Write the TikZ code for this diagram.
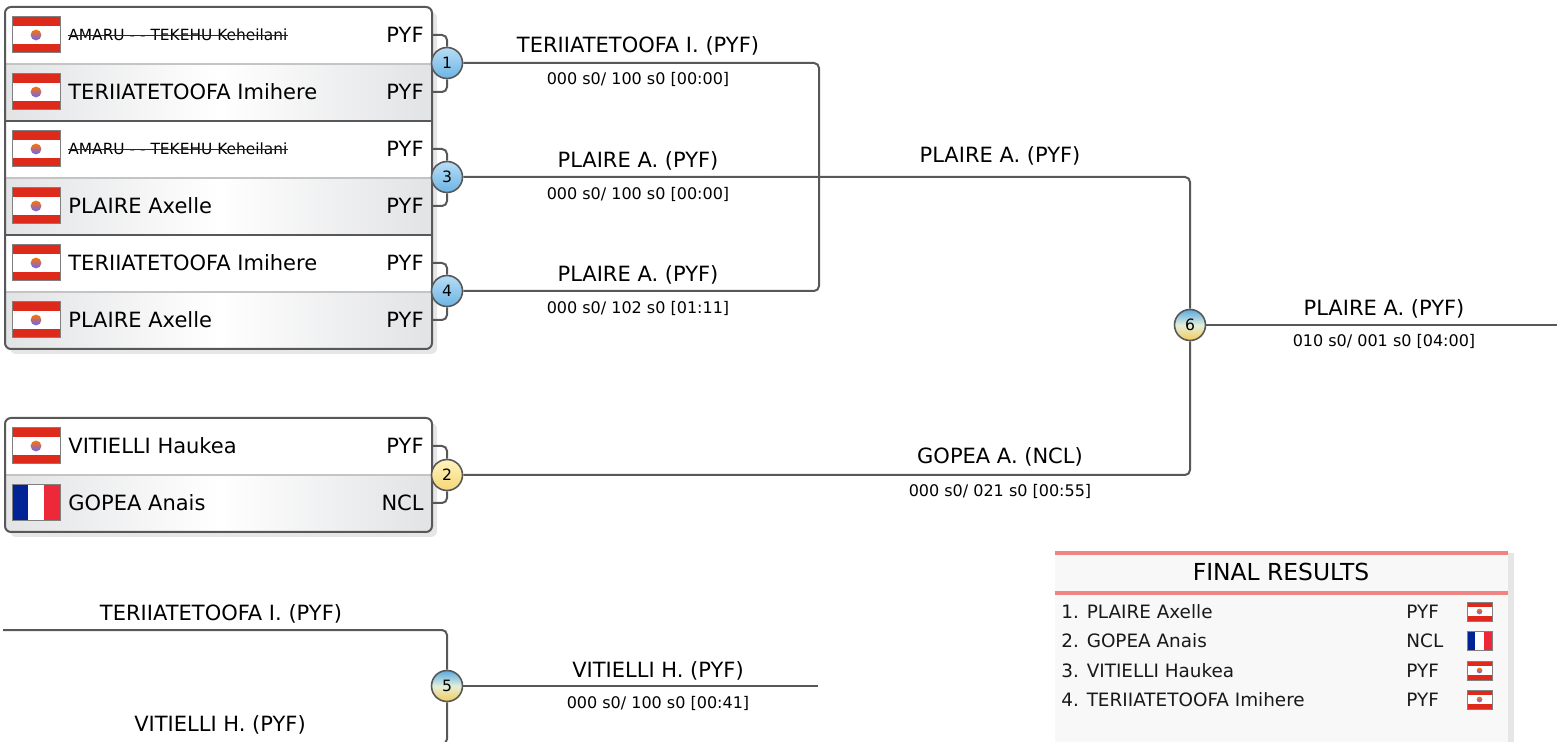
\documentclass[tikz,border=0pt]{standalone}
\usepackage{fontspec}
\setmainfont{DejaVu Sans}
\definecolor{linegray}{HTML}{585858}
\definecolor{rowline}{HTML}{C4C4C4}
\definecolor{rowgray}{HTML}{E2E3E5}
\definecolor{shadowgray}{HTML}{E6E6E6}
\definecolor{bluetop}{HTML}{B8DDF6}
\definecolor{bluebot}{HTML}{6CB4E4}
\definecolor{bluemix}{HTML}{58AAE2}
\definecolor{yeltop}{HTML}{FFF5C0}
\definecolor{yelbot}{HTML}{F6D676}
\definecolor{yelmix}{HTML}{F2CC58}
\definecolor{midmix}{HTML}{E4EEDA}
\definecolor{pyfred}{HTML}{DE2A1B}
\definecolor{frblue}{HTML}{002395}
\definecolor{frred}{HTML}{ED2939}
\definecolor{resultred}{HTML}{F08482}
\definecolor{resultbg}{HTML}{F8F8F8}

% flags: left x, centre y, width, height
\newcommand{\pyfflag}[4]{%
  \fill[white] (#1,#2-#4/2) rectangle (#1+#3,#2+#4/2);
  \fill[pyfred] (#1,#2-#4/2) rectangle (#1+#3,#2-#4/4);
  \fill[pyfred] (#1,#2+#4/4) rectangle (#1+#3,#2+#4/2);
  \shade[top color=orange!90!red, bottom color=blue!60] (#1+#3/2,#2) circle (#4*0.15);
  \draw[gray, line width=0.5pt] (#1,#2-#4/2) rectangle (#1+#3,#2+#4/2);}
\newcommand{\frflag}[4]{%
  \fill[frblue] (#1,#2-#4/2) rectangle (#1+#3/3,#2+#4/2);
  \fill[white] (#1+#3/3,#2-#4/2) rectangle (#1+#3*2/3,#2+#4/2);
  \fill[frred] (#1+#3*2/3,#2-#4/2) rectangle (#1+#3,#2+#4/2);
  \draw[gray, line width=0.5pt] (#1,#2-#4/2) rectangle (#1+#3,#2+#4/2);}

\begin{document}
\begin{tikzpicture}[x=0.5pt, y=-0.5pt]
    \tikzstyle{link}=[draw=linegray, line width=1pt, rounded corners=2.5pt]
    \tikzstyle{match}=[circle, draw=linegray, line width=0.8pt, minimum size=15.5pt, inner sep=0pt, font=\fontsize{7.8}{9}\selectfont]
    \tikzstyle{mblue}=[match, top color=bluetop, bottom color=bluebot]
    \tikzstyle{myellow}=[match, top color=yeltop, bottom color=yelbot]
    \tikzstyle{mmixed}=[match, top color=bluemix, bottom color=yelmix, middle color=midmix]
    \tikzstyle{winner}=[anchor=base, inner sep=0pt, font=\fontsize{10.5}{12}\selectfont]
    \tikzstyle{score}=[anchor=base, inner sep=0pt, font=\fontsize{8}{10}\selectfont]
    \tikzstyle{player}=[anchor=base west, inner sep=0pt]
    \tikzstyle{nation}=[anchor=base east, inner sep=0pt, font=\fontsize{10.5}{12}\selectfont]
    \tikzstyle{rank}=[anchor=base west, inner sep=0pt, text=black!90, font=\fontsize{9.2}{11}\selectfont]

    \useasboundingbox (0,0) rectangle (1557,742);

    % player boxes
    \fill[shadowgray, rounded corners=3pt] (10,12) rectangle (437,354);
    \fill[shadowgray, rounded corners=3pt] (10,423) rectangle (437,537);
    \begin{scope}
        \clip[rounded corners=3pt] (5,7) rectangle (432,349) (5,418) rectangle (432,532);
        \foreach \top in {7,121,235,418} {
            \fill[white] (5,\top) rectangle (432,\top+57);
            \shade[left color=rowgray, right color=rowgray, middle color=white] (5,\top+57) rectangle (432,\top+114);
        }
    \end{scope}
    \foreach \yy in {64,178,292,475}
    \draw[rowline, line width=0.6pt] (5,\yy) -- (432,\yy);
    \foreach \yy in {121,235}
    \draw[linegray, line width=0.8pt] (5,\yy) -- (432,\yy);
    \draw[linegray, line width=1pt, rounded corners=3pt] (5,7) rectangle (432,349);
    \draw[linegray, line width=1pt, rounded corners=3pt] (5,418) rectangle (432,532);

    \foreach \y in {35,92,149,206,263,320,446}
    \pyfflag{12}{\y}{48}{36};
    \frflag{12}{503}{48}{36};

    \foreach \i/\y/\fs/\nm/\cc in {1/35/7.7/{AMARU - - TEKEHU Keheilani}/PYF, 2/92/10.5/{TERIIATETOOFA Imihere}/PYF,
        3/149/7.7/{AMARU - - TEKEHU Keheilani}/PYF, 4/206/10.5/{PLAIRE Axelle}/PYF,
        5/263/10.5/{TERIIATETOOFA Imihere}/PYF, 6/320/10.5/{PLAIRE Axelle}/PYF,
        7/446/10.5/{VITIELLI Haukea}/PYF, 8/503/10.5/{GOPEA Anais}/NCL} {
        \node[player, font=\fontsize{\fs}{12}\selectfont] (n\i) at (68,\y+\fs*0.68) {\nm};
        \node[nation] (c\i) at (424,\y+7.5) {\cc};
        \coordinate (p\i) at (432,\y);
    }
    \foreach \i in {1,3}
    \draw[black!85, line width=0.5pt] ([yshift=2.4pt]n\i.base west) -- ([yshift=2.4pt]n\i.base east);

    % matches
    \node[mblue] (m1) at (447,63) {1};
    \node[mblue] (m3) at (447,177) {3};
    \node[mblue] (m4) at (447,291) {4};
    \node[myellow] (m2) at (447,475) {2};
    \node[mmixed] (m5) at (447,686) {5};
    \node[mmixed] (m6) at (1190,325) {6};

    \foreach \a/\m in {1/1, 2/1, 3/3, 4/3, 5/4, 6/4, 7/2, 8/2}
    \draw[link] (p\a) -| (m\m);

    \coordinate (j14) at (819,177);
    \coordinate (f6) at (1557,325);
    \coordinate (e5a) at (3,630);
    \coordinate (e5b) at (3,744);
    \coordinate (f5) at (818,686);
    \draw[link] (m1) -| (j14) |- (m4);
    \draw[link] (m3) -| (m6);
    \draw[link] (m2) -| (m6);
    \draw[link] (m6) -- (f6);
    \draw[link] (e5a) -| (m5);
    \draw[link] (e5b) -| (m5);
    \draw[link] (m5) -- (f5);

    % winners and scores
    \foreach \name/\x/\y/\txt in {w1/638/53/{TERIIATETOOFA I. (PYF)}, w3/638/168/{PLAIRE A. (PYF)},
        w4/638/282/{PLAIRE A. (PYF)}, w36/1000/163/{PLAIRE A. (PYF)}, w2/1000/464/{GOPEA A. (NCL)},
        w6/1384/316/{PLAIRE A. (PYF)}, w5a/221/620/{TERIIATETOOFA I. (PYF)},
        w5b/220/731/{VITIELLI H. (PYF)}, w5/658/677/{VITIELLI H. (PYF)}}
    \node[winner] (\name) at (\x,\y) {\txt};
    \foreach \name/\x/\y/\txt in {s1/638/85/{000 s0/ 100 s0 [00:00]}, s3/638/200/{000 s0/ 100 s0 [00:00]},
        s4/638/314/{000 s0/ 102 s0 [01:11]}, s2/1000/496/{000 s0/ 021 s0 [00:55]},
        s6/1384/347/{010 s0/ 001 s0 [04:00]}, s5/658/708/{000 s0/ 100 s0 [00:41]}}
    \node[score] (\name) at (\x,\y) {\txt};

    % final results
    \fill[shadowgray] (1508,553) rectangle (1514,745);
    \fill[resultbg] (1055,551) rectangle (1508,745);
    \draw[resultred, line width=2pt] (1055,553) -- (1508,553);
    \draw[resultred, line width=2pt] (1055,593) -- (1508,593);
    \node[anchor=base, inner sep=0pt, font=\fontsize{11.7}{14}\selectfont] (fr) at (1281,580) {FINAL RESULTS};
    \foreach \i/\y/\nm/\cc in {1/618/PLAIRE Axelle/PYF, 2/647/GOPEA Anais/NCL,
        3/677/VITIELLI Haukea/PYF, 4/706/TERIIATETOOFA Imihere/PYF} {
        \node[rank] (r\i) at (1061,\y) {\i. \nm};
        \node[rank] (rc\i) at (1406,\y) {\cc};
    }
    \foreach \y in {611.5,670.5,699.5}
    \pyfflag{1467}{\y}{25}{19};
    \frflag{1467}{641}{25}{19};
\end{tikzpicture}
\end{document}
